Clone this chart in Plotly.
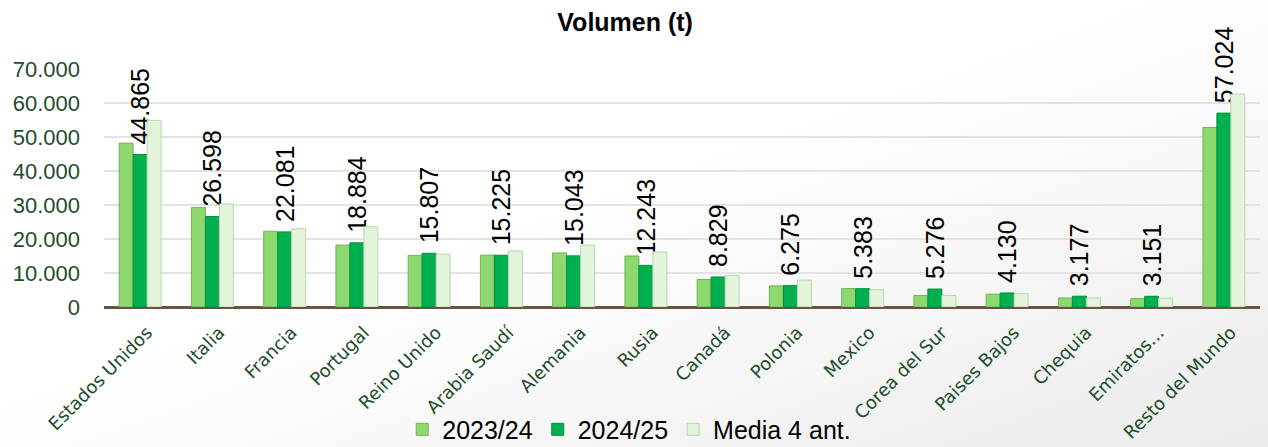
import base64
import plotly.graph_objects as go

categories = ["Estados Unidos", "Italia", "Francia", "Portugal", "Reino Unido", "Arabia Saudí",
              "Alemania", "Rusia", "Canadá", "Polonia", "Mexico", "Corea del Sur",
              "Paises Bajos", "Chequia", "Emiratos...", "Resto del Mundo"]
v_2023_24 = [48200, 29300, 22300, 18200, 15200, 15250, 15900, 15000, 8100, 6200, 5400, 3400, 3750, 2650, 2450, 52800]
v_2024_25 = [44865, 26598, 22081, 18884, 15807, 15225, 15043, 12243, 8829, 6275, 5383, 5276, 4130, 3177, 3151, 57024]
v_media = [54900, 30300, 23000, 23600, 15500, 16500, 18200, 16200, 9300, 7900, 5100, 3400, 3950, 2650, 2600, 62600]

bg_svg = ("<svg xmlns='http://www.w3.org/2000/svg' width='100' height='100' preserveAspectRatio='none'>"
          "<defs><linearGradient id='g' x1='0' y1='0' x2='1' y2='1'>"
          "<stop offset='0.45' stop-color='#ffffff'/><stop offset='1' stop-color='#ebebeb'/>"
          "</linearGradient></defs><rect width='100' height='100' fill='url(#g)'/></svg>")
bg_uri = "data:image/svg+xml;base64," + base64.b64encode(bg_svg.encode()).decode()

fig = go.Figure()
fig.add_trace(go.Bar(name="2023/24", x=categories, y=v_2023_24,
                     marker=dict(color="#8ed870", line=dict(color="#6fb556", width=1))))
fig.add_trace(go.Bar(name="2024/25", x=categories, y=v_2024_25,
                     marker=dict(color="#00b050", line=dict(color="#009040", width=1)),
                     texttemplate="\u00a0%{y:,.0f}", textposition="outside", textangle=-90,
                     constraintext="none", cliponaxis=False,
                     textfont=dict(family="Liberation Sans, Arial", size=25, color="#000000")))
fig.add_trace(go.Bar(name="Media 4 ant.", x=categories, y=v_media,
                     marker=dict(color="#e2f4da", line=dict(color="#b9d6ad", width=1))))

fig.update_layout(
    width=1268, height=447,
    separators=",.",
    barmode="group", bargap=0.42, bargroupgap=0.0,
    paper_bgcolor="#ffffff", plot_bgcolor="rgba(0,0,0,0)",
    margin=dict(l=104, r=8, t=69, b=140, autoexpand=False),
    title=dict(text="<b>Volumen (t)</b>", x=0.493, xanchor="center", y=0.95, yanchor="middle",
               font=dict(family="Liberation Sans, Arial", size=25, color="#000000")),
    legend=dict(orientation="h", x=0.258, xanchor="left", y=-0.515, yanchor="middle",
                font=dict(family="Liberation Sans, Arial", size=25, color="#000000"),
                bgcolor="rgba(0,0,0,0)", itemwidth=30, tracegroupgap=0),
    showlegend=True,
    images=[dict(source=bg_uri, xref="paper", yref="paper", x=-104 / 1156, y=1 + 69 / 238,
                 sizex=1268 / 1156, sizey=447 / 238, xanchor="left", yanchor="top",
                 sizing="stretch", layer="below")],
)
fig.update_yaxes(range=[0, 70000], dtick=10000, tickformat=",.0f", automargin=False,
                 gridcolor="#e3e3e3", gridwidth=1.5, zeroline=True, zerolinecolor="#6b5344", zerolinewidth=2,
                 tickfont=dict(family="Liberation Sans, Arial", size=22, color="#1e4d2b"),
                 ticks="", ticklabelstandoff=23)
fig.update_xaxes(tickangle=-45, showline=True, linecolor="#6b5344", linewidth=2, automargin=False,
                 ticklabelstandoff=6, ticklabelshift=7,
                 tickfont=dict(family="DejaVu Sans, Verdana", size=18, color="#1e4d2b"))

fig.write_html("out.html", config={"displayModeBar": False},
               post_script="document.body.style.margin='0';document.body.style.overflow='hidden';")
